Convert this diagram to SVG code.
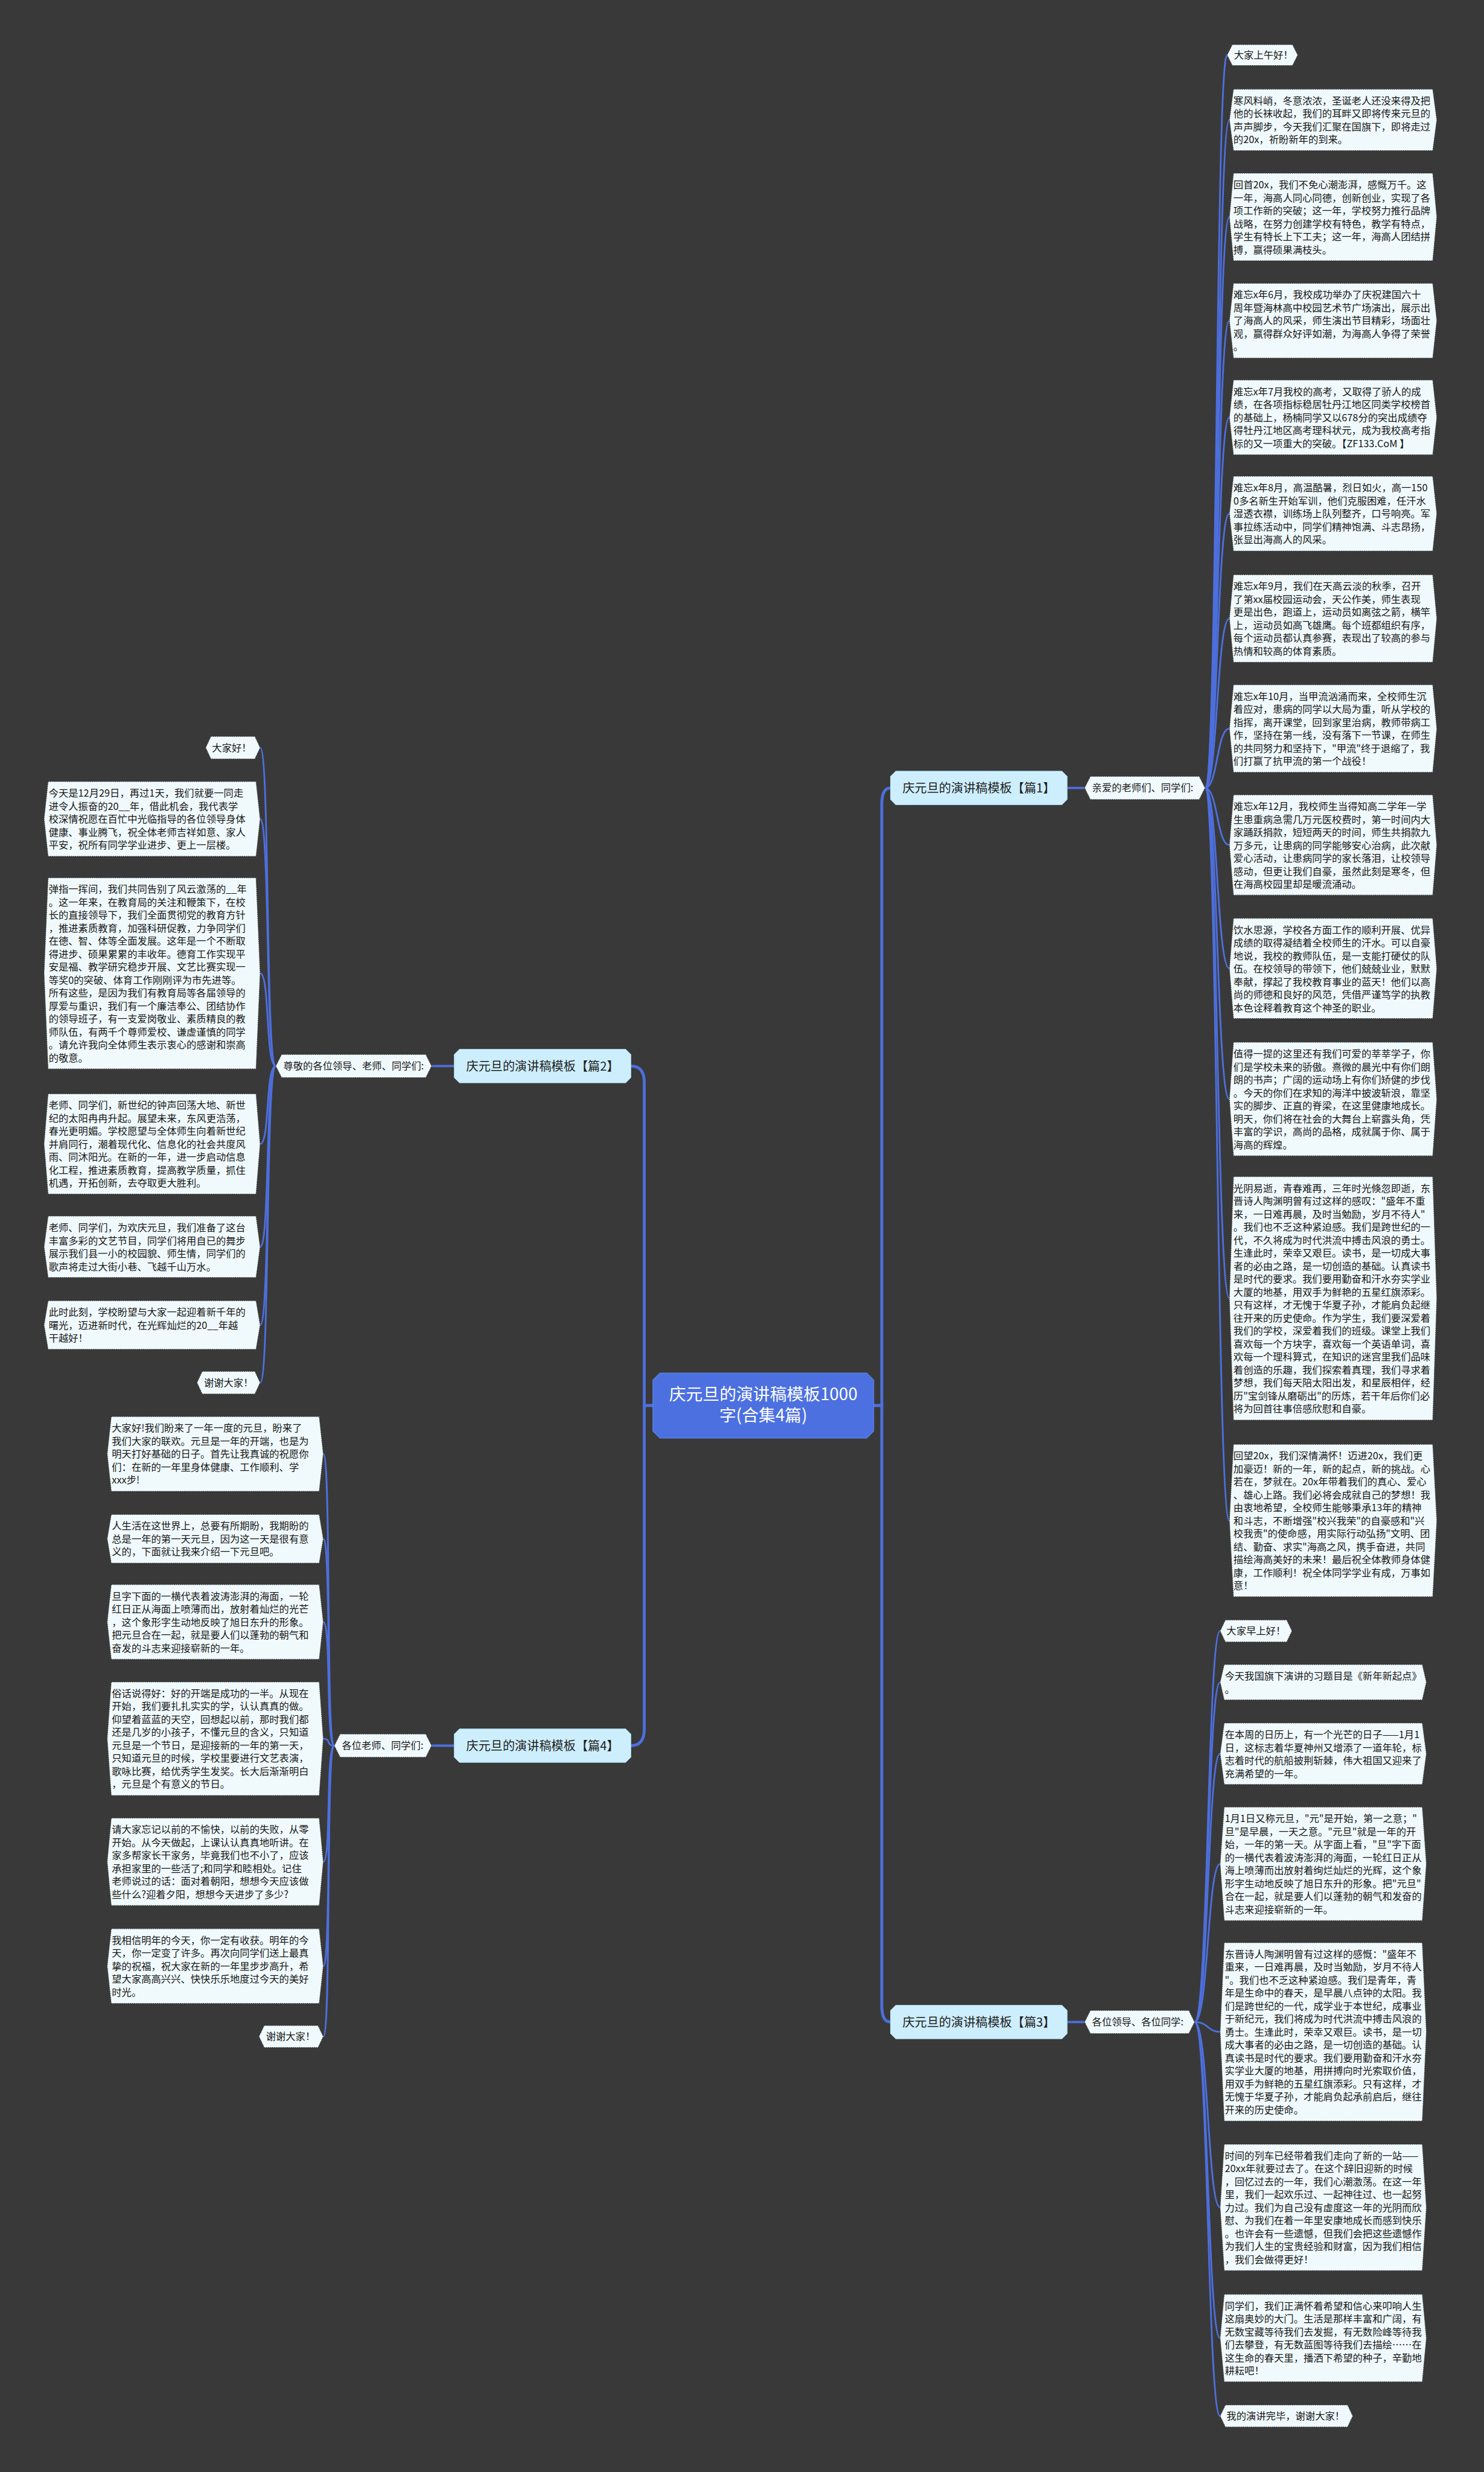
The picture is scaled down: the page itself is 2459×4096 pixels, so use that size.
<svg xmlns="http://www.w3.org/2000/svg" width="2459" height="4096" viewBox="0 0 2459 4096">
<style>
.t{font-family:"Noto Sans CJK SC","Noto Sans",sans-serif;font-size:17px;fill:#161616}
.box{fill:#f0fafd;stroke:#3c3c3c;stroke-width:1.2;stroke-dasharray:2 1.6}
.br{fill:#cdeefc;stroke:#a6d6ec;stroke-width:1}
.bt{font-family:"Noto Sans CJK SC","Noto Sans",sans-serif;font-size:21px;fill:#1e1e1e;text-anchor:middle}
.mn{fill:#4c70e0;stroke:#5b7fe8;stroke-width:1.5}
.mt{font-family:"Noto Sans CJK SC","Noto Sans",sans-serif;font-size:29px;fill:#ffffff;text-anchor:middle}
.c{fill:none;stroke:#4d6fdd;stroke-width:3;stroke-linecap:round}
.cm{fill:none;stroke:#4d6fdd;stroke-width:5}
.cl{fill:none;stroke:#4d6fdd;stroke-width:4}
</style>
<rect x="0" y="0" width="2459" height="4096" fill="#393939"/>
<g transform="scale(0.96)">
<g id="connectors">
<path class="cm" d="M1127,2426 H1112 V1868 Q1112,1840 1089,1840"/>
<path class="cm" d="M1127,2426 H1112 V2985 Q1112,3013 1089,3013"/>
<path class="cm" d="M1508,2426 H1522 V1388 Q1522,1360 1537,1360"/>
<path class="cm" d="M1508,2426 H1522 V3462 Q1522,3490 1537,3490"/>
<path class="cl" d="M1842,1360 H1872"/>
<path class="cl" d="M1842,3490 H1872"/>
<path class="cl" d="M745,1840 H784"/>
<path class="cl" d="M745,3013 H784"/>
<path class="c" d="M2080,1360 C2102,1360 2098,95 2118,95"/>
<path class="c" d="M2080,1360 C2102,1360 2100,207 2122,207"/>
<path class="c" d="M2080,1360 C2102,1360 2100,374.5 2122,374.5"/>
<path class="c" d="M2080,1360 C2102,1360 2100,553.5 2122,553.5"/>
<path class="c" d="M2080,1360 C2102,1360 2100,720.5 2122,720.5"/>
<path class="c" d="M2080,1360 C2102,1360 2100,886.5 2122,886.5"/>
<path class="c" d="M2080,1360 C2102,1360 2100,1067.5 2122,1067.5"/>
<path class="c" d="M2080,1360 C2102,1360 2100,1257.5 2122,1257.5"/>
<path class="c" d="M2080,1360 C2102,1360 2100,1458.5 2122,1458.5"/>
<path class="c" d="M2080,1360 C2102,1360 2100,1671.5 2122,1671.5"/>
<path class="c" d="M2080,1360 C2102,1360 2100,1897 2122,1897"/>
<path class="c" d="M2080,1360 C2102,1360 2100,2241 2122,2241"/>
<path class="c" d="M2080,1360 C2102,1360 2100,2624.5 2122,2624.5"/>
<path class="c" d="M2062,3490 C2086,3490 2084,2815 2106,2815"/>
<path class="c" d="M2062,3490 C2086,3490 2084,2903.5 2106,2903.5"/>
<path class="c" d="M2062,3490 C2086,3490 2084,3027 2106,3027"/>
<path class="c" d="M2062,3490 C2086,3490 2084,3217 2106,3217"/>
<path class="c" d="M2062,3490 C2086,3490 2084,3507 2106,3507"/>
<path class="c" d="M2062,3490 C2086,3490 2084,3810 2106,3810"/>
<path class="c" d="M2062,3490 C2086,3490 2084,4035.5 2106,4035.5"/>
<path class="c" d="M2062,3490 C2086,3490 2084,4170 2106,4170"/>
<path class="c" d="M476,1840 C458,1840 466,1290.5 449,1290.5"/>
<path class="c" d="M476,1840 C458,1840 466,1413.5 449,1413.5"/>
<path class="c" d="M476,1840 C458,1840 466,1680 449,1680"/>
<path class="c" d="M476,1840 C458,1840 466,1974.5 449,1974.5"/>
<path class="c" d="M476,1840 C458,1840 466,2152 449,2152"/>
<path class="c" d="M476,1840 C458,1840 466,2287 449,2287"/>
<path class="c" d="M476,1840 C458,1840 466,2386.5 449,2386.5"/>
<path class="c" d="M577,3013 C562,3013 572,2509.5 558,2509.5"/>
<path class="c" d="M577,3013 C562,3013 572,2656 558,2656"/>
<path class="c" d="M577,3013 C562,3013 572,2799.5 558,2799.5"/>
<path class="c" d="M577,3013 C562,3013 572,3001 558,3001"/>
<path class="c" d="M577,3013 C562,3013 572,3213.5 558,3213.5"/>
<path class="c" d="M577,3013 C562,3013 572,3393.5 558,3393.5"/>
<path class="c" d="M577,3013 C562,3013 572,3515 558,3515"/>
</g>

<g id="main">
<polygon class="mn" points="1139,2370 1496,2370 1508,2382 1508,2470 1496,2482 1139,2482 1127,2470 1127,2382"/>
<text class="mt" x="1317.5" y="2417">庆元旦的演讲稿模板1000</text>
<text class="mt" x="1317.5" y="2453">字(合集4篇)</text>
</g>

<g id="b1">
<polygon class="br" points="1546,1331 1833,1331 1842,1340 1842,1380 1833,1389 1546,1389 1537,1380 1537,1340"/>
<text class="bt" x="1689.5" y="1367.5">庆元旦的演讲稿模板【篇1】</text>
</g>
<g id="b2">
<polygon class="br" points="793,1811 1080,1811 1089,1820 1089,1860 1080,1869 793,1869 784,1860 784,1820"/>
<text class="bt" x="936.5" y="1847.5">庆元旦的演讲稿模板【篇2】</text>
</g>
<g id="b3">
<polygon class="br" points="1546,3461 1833,3461 1842,3470 1842,3510 1833,3519 1546,3519 1537,3510 1537,3470"/>
<text class="bt" x="1689.5" y="3497.5">庆元旦的演讲稿模板【篇3】</text>
</g>
<g id="b4">
<polygon class="br" points="793,2984 1080,2984 1089,2993 1089,3033 1080,3042 793,3042 784,3033 784,2993"/>
<text class="bt" x="936.5" y="3020.5">庆元旦的演讲稿模板【篇4】</text>
</g>

<g id="l1">
<polygon class="box" points="1882,1340 2070,1340 2080,1360 2070,1380 1882,1380 1872,1360"/>
<text class="t" x="1885" y="1366">亲爱的老师们、同学们:</text>
</g>
<g id="l3">
<polygon class="box" points="1882,3470 2052,3470 2062,3490 2052,3510 1882,3510 1872,3490"/>
<text class="t" x="1885" y="3496">各位领导、各位同学:</text>
</g>
<g id="l2">
<polygon class="box" points="486,1820 735,1820 745,1840 735,1860 486,1860 476,1840"/>
<text class="t" x="489" y="1846">尊敬的各位领导、老师、同学们:</text>
</g>
<g id="l4">
<polygon class="box" points="587,2993 735,2993 745,3013 735,3033 587,3033 577,3013"/>
<text class="t" x="590" y="3019">各位老师、同学们:</text>
</g>

<g id="a1"><polygon class="box" points="2127,77 2231,77 2240,95 2231,113 2127,113 2118,95"/><text class="t" x="2130" y="101">大家上午好！</text></g>
<g id="a2"><polygon class="box" points="2129,154 2473,154 2480,207 2473,260 2129,260 2122,207"/>
<text class="t" x="2129" y="180"><tspan x="2129" dy="0">寒风料峭，冬意浓浓，圣诞老人还没来得及把</tspan><tspan x="2129" dy="22.4">他的长袜收起，我们的耳畔又即将传来元旦的</tspan><tspan x="2129" dy="22.4">声声脚步，今天我们汇聚在国旗下，即将走过</tspan><tspan x="2129" dy="22.4">的20x，祈盼新年的到来。</tspan></text></g>
<g id="a3"><polygon class="box" points="2129,299 2473,299 2480,374.5 2473,450 2129,450 2122,374.5"/>
<text class="t" x="2129" y="325"><tspan x="2129" dy="0">回首20x，我们不免心潮澎湃，感慨万千。这</tspan><tspan x="2129" dy="22.4">一年，海高人同心同德，创新创业，实现了各</tspan><tspan x="2129" dy="22.4">项工作新的突破；这一年，学校努力推行品牌</tspan><tspan x="2129" dy="22.4">战略，在努力创建学校有特色，教学有特点，</tspan><tspan x="2129" dy="22.4">学生有特长上下工夫；这一年，海高人团结拼</tspan><tspan x="2129" dy="22.4">搏，赢得硕果满枝头。</tspan></text></g>
<g id="a4"><polygon class="box" points="2129,489 2473,489 2480,553.5 2473,618 2129,618 2122,553.5"/>
<text class="t" x="2129" y="515"><tspan x="2129" dy="0">难忘x年6月，我校成功举办了庆祝建国六十</tspan><tspan x="2129" dy="22.4">周年暨海林高中校园艺术节广场演出，展示出</tspan><tspan x="2129" dy="22.4">了海高人的风采，师生演出节目精彩，场面壮</tspan><tspan x="2129" dy="22.4">观，赢得群众好评如潮，为海高人争得了荣誉</tspan><tspan x="2129" dy="22.4">。</tspan></text></g>
<g id="a5"><polygon class="box" points="2129,656 2473,656 2480,720.5 2473,785 2129,785 2122,720.5"/>
<text class="t" x="2129" y="682"><tspan x="2129" dy="0">难忘x年7月我校的高考，又取得了骄人的成</tspan><tspan x="2129" dy="22.4">绩，在各项指标稳居牡丹江地区同类学校榜首</tspan><tspan x="2129" dy="22.4">的基础上，杨楠同学又以678分的突出成绩夺</tspan><tspan x="2129" dy="22.4">得牡丹江地区高考理科状元，成为我校高考指</tspan><tspan x="2129" dy="22.4">标的又一项重大的突破。【ZF133.CoM 】</tspan></text></g>
<g id="a6"><polygon class="box" points="2129,822 2473,822 2480,886.5 2473,951 2129,951 2122,886.5"/>
<text class="t" x="2129" y="848"><tspan x="2129" dy="0">难忘x年8月，高温酷暑，烈日如火，高一150</tspan><tspan x="2129" dy="22.4">0多名新生开始军训，他们克服困难，任汗水</tspan><tspan x="2129" dy="22.4">湿透衣襟，训练场上队列整齐，口号响亮。军</tspan><tspan x="2129" dy="22.4">事拉练活动中，同学们精神饱满、斗志昂扬，</tspan><tspan x="2129" dy="22.4">张显出海高人的风采。</tspan></text></g>
<g id="a7"><polygon class="box" points="2129,992 2473,992 2480,1067.5 2473,1143 2129,1143 2122,1067.5"/>
<text class="t" x="2129" y="1018"><tspan x="2129" dy="0">难忘x年9月，我们在天高云淡的秋季，召开</tspan><tspan x="2129" dy="22.4">了第xx届校园运动会，天公作美，师生表现</tspan><tspan x="2129" dy="22.4">更是出色，跑道上，运动员如离弦之箭，横竿</tspan><tspan x="2129" dy="22.4">上，运动员如高飞雄鹰。每个班都组织有序，</tspan><tspan x="2129" dy="22.4">每个运动员都认真参赛，表现出了较高的参与</tspan><tspan x="2129" dy="22.4">热情和较高的体育素质。</tspan></text></g>
<g id="a8"><polygon class="box" points="2129,1182 2473,1182 2480,1257.5 2473,1333 2129,1333 2122,1257.5"/>
<text class="t" x="2129" y="1208"><tspan x="2129" dy="0">难忘x年10月，当甲流汹涌而来，全校师生沉</tspan><tspan x="2129" dy="22.4">着应对，患病的同学以大局为重，听从学校的</tspan><tspan x="2129" dy="22.4">指挥，离开课堂，回到家里治病，教师带病工</tspan><tspan x="2129" dy="22.4">作，坚持在第一线，没有落下一节课，在师生</tspan><tspan x="2129" dy="22.4">的共同努力和坚持下，"甲流"终于退缩了，我</tspan><tspan x="2129" dy="22.4">们打赢了抗甲流的第一个战役！</tspan></text></g>
<g id="a9"><polygon class="box" points="2129,1372 2473,1372 2480,1458.5 2473,1545 2129,1545 2122,1458.5"/>
<text class="t" x="2129" y="1398"><tspan x="2129" dy="0">难忘x年12月，我校师生当得知高二学年一学</tspan><tspan x="2129" dy="22.4">生患重病急需几万元医校费时，第一时间内大</tspan><tspan x="2129" dy="22.4">家踊跃捐款，短短两天的时间，师生共捐款九</tspan><tspan x="2129" dy="22.4">万多元，让患病的同学能够安心治病，此次献</tspan><tspan x="2129" dy="22.4">爱心活动，让患病同学的家长落泪，让校领导</tspan><tspan x="2129" dy="22.4">感动，但更让我们自豪，虽然此刻是寒冬，但</tspan><tspan x="2129" dy="22.4">在海高校园里却是暖流涌动。</tspan></text></g>
<g id="a10"><polygon class="box" points="2129,1585 2473,1585 2480,1671.5 2473,1758 2129,1758 2122,1671.5"/>
<text class="t" x="2129" y="1611"><tspan x="2129" dy="0">饮水思源，学校各方面工作的顺利开展、优异</tspan><tspan x="2129" dy="22.4">成绩的取得凝结着全校师生的汗水。可以自豪</tspan><tspan x="2129" dy="22.4">地说，我校的教师队伍，是一支能打硬仗的队</tspan><tspan x="2129" dy="22.4">伍。在校领导的带领下，他们兢兢业业，默默</tspan><tspan x="2129" dy="22.4">奉献，撑起了我校教育事业的蓝天！他们以高</tspan><tspan x="2129" dy="22.4">尚的师德和良好的风范，凭借严谨笃学的执教</tspan><tspan x="2129" dy="22.4">本色诠释着教育这个神圣的职业。</tspan></text></g>
<g id="a11"><polygon class="box" points="2129,1799 2473,1799 2480,1897 2473,1995 2129,1995 2122,1897"/>
<text class="t" x="2129" y="1825"><tspan x="2129" dy="0">值得一提的这里还有我们可爱的莘莘学子，你</tspan><tspan x="2129" dy="22.4">们是学校未来的骄傲。熹微的晨光中有你们朗</tspan><tspan x="2129" dy="22.4">朗的书声；广阔的运动场上有你们矫健的步伐</tspan><tspan x="2129" dy="22.4">。今天的你们在求知的海洋中披波斩浪，靠坚</tspan><tspan x="2129" dy="22.4">实的脚步、正直的脊梁，在这里健康地成长。</tspan><tspan x="2129" dy="22.4">明天，你们将在社会的大舞台上崭露头角，凭</tspan><tspan x="2129" dy="22.4">丰富的学识，高尚的品格，成就属于你、属于</tspan><tspan x="2129" dy="22.4">海高的辉煌。</tspan></text></g>
<g id="a12"><polygon class="box" points="2129,2031 2473,2031 2480,2241 2473,2451 2129,2451 2122,2241"/>
<text class="t" x="2129" y="2057"><tspan x="2129" dy="0">光阴易逝，青春难再，三年时光倏忽即逝，东</tspan><tspan x="2129" dy="22.4">晋诗人陶渊明曾有过这样的感叹："盛年不重</tspan><tspan x="2129" dy="22.4">来，一日难再晨，及时当勉励，岁月不待人"</tspan><tspan x="2129" dy="22.4">。我们也不乏这种紧迫感。我们是跨世纪的一</tspan><tspan x="2129" dy="22.4">代，不久将成为时代洪流中搏击风浪的勇士。</tspan><tspan x="2129" dy="22.4">生逢此时，荣幸又艰巨。读书，是一切成大事</tspan><tspan x="2129" dy="22.4">者的必由之路，是一切创造的基础。认真读书</tspan><tspan x="2129" dy="22.4">是时代的要求。我们要用勤奋和汗水夯实学业</tspan><tspan x="2129" dy="22.4">大厦的地基，用双手为鲜艳的五星红旗添彩。</tspan><tspan x="2129" dy="22.4">只有这样，才无愧于华夏子孙，才能肩负起继</tspan><tspan x="2129" dy="22.4">往开来的历史使命。作为学生，我们要深爱着</tspan><tspan x="2129" dy="22.4">我们的学校，深爱着我们的班级。课堂上我们</tspan><tspan x="2129" dy="22.4">喜欢每一个方块字，喜欢每一个英语单词，喜</tspan><tspan x="2129" dy="22.4">欢每一个理科算式，在知识的迷宫里我们品味</tspan><tspan x="2129" dy="22.4">着创造的乐趣，我们探索着真理，我们寻求着</tspan><tspan x="2129" dy="22.4">梦想，我们每天陪太阳出发，和星辰相伴，经</tspan><tspan x="2129" dy="22.4">历"宝剑锋从磨砺出"的历炼，若干年后你们必</tspan><tspan x="2129" dy="22.4">将为回首往事倍感欣慰和自豪。</tspan></text></g>
<g id="a13"><polygon class="box" points="2129,2493 2473,2493 2480,2624.5 2473,2756 2129,2756 2122,2624.5"/>
<text class="t" x="2129" y="2519"><tspan x="2129" dy="0">回望20x，我们深情满怀！迈进20x，我们更</tspan><tspan x="2129" dy="22.4">加豪迈！新的一年，新的起点，新的挑战。心</tspan><tspan x="2129" dy="22.4">若在，梦就在。20x年带着我们的真心、爱心</tspan><tspan x="2129" dy="22.4">、雄心上路。我们必将会成就自己的梦想！我</tspan><tspan x="2129" dy="22.4">由衷地希望，全校师生能够秉承13年的精神</tspan><tspan x="2129" dy="22.4">和斗志，不断增强"校兴我荣"的自豪感和"兴</tspan><tspan x="2129" dy="22.4">校我责"的使命感，用实际行动弘扬"文明、团</tspan><tspan x="2129" dy="22.4">结、勤奋、求实"海高之风，携手奋进，共同</tspan><tspan x="2129" dy="22.4">描绘海高美好的未来！最后祝全体教师身体健</tspan><tspan x="2129" dy="22.4">康，工作顺利！祝全体同学学业有成，万事如</tspan><tspan x="2129" dy="22.4">意！</tspan></text></g>

<g id="b3_1"><polygon class="box" points="2115,2796 2221,2796 2230,2815 2221,2834 2115,2834 2106,2815"/><text class="t" x="2117" y="2821">大家早上好！</text></g>
<g id="b3_2"><polygon class="box" points="2113,2873 2455,2873 2462,2903.5 2455,2934 2113,2934 2106,2903.5"/>
<text class="t" x="2114" y="2899"><tspan x="2114" dy="0">今天我国旗下演讲的习题目是《新年新起点》</tspan><tspan x="2114" dy="22.4">。</tspan></text></g>
<g id="b3_3"><polygon class="box" points="2113,2974 2455,2974 2462,3027 2455,3080 2113,3080 2106,3027"/>
<text class="t" x="2114" y="3000"><tspan x="2114" dy="0">在本周的日历上，有一个光芒的日子——1月1</tspan><tspan x="2114" dy="22.4">日，这标志着华夏神州又增添了一道年轮，标</tspan><tspan x="2114" dy="22.4">志着时代的航船披荆斩棘，伟大祖国又迎来了</tspan><tspan x="2114" dy="22.4">充满希望的一年。</tspan></text></g>
<g id="b3_4"><polygon class="box" points="2113,3119 2455,3119 2462,3217 2455,3315 2113,3315 2106,3217"/>
<text class="t" x="2114" y="3145"><tspan x="2114" dy="0">1月1日又称元旦，"元"是开始，第一之意；"</tspan><tspan x="2114" dy="22.4">旦"是早晨，一天之意。"元旦"就是一年的开</tspan><tspan x="2114" dy="22.4">始，一年的第一天。从字面上看，"旦"字下面</tspan><tspan x="2114" dy="22.4">的一横代表着波涛澎湃的海面，一轮红日正从</tspan><tspan x="2114" dy="22.4">海上喷薄而出放射着绚烂灿烂的光辉，这个象</tspan><tspan x="2114" dy="22.4">形字生动地反映了旭日东升的形象。把"元旦"</tspan><tspan x="2114" dy="22.4">合在一起，就是要人们以蓬勃的朝气和发奋的</tspan><tspan x="2114" dy="22.4">斗志来迎接崭新的一年。</tspan></text></g>
<g id="b3_5"><polygon class="box" points="2113,3353 2455,3353 2462,3507 2455,3661 2113,3661 2106,3507"/>
<text class="t" x="2114" y="3379"><tspan x="2114" dy="0">东晋诗人陶渊明曾有过这样的感慨："盛年不</tspan><tspan x="2114" dy="22.4">重来，一日难再晨，及时当勉励，岁月不待人</tspan><tspan x="2114" dy="22.4">"。我们也不乏这种紧迫感。我们是青年，青</tspan><tspan x="2114" dy="22.4">年是生命中的春天，是早晨八点钟的太阳。我</tspan><tspan x="2114" dy="22.4">们是跨世纪的一代，成学业于本世纪，成事业</tspan><tspan x="2114" dy="22.4">于新纪元，我们将成为时代洪流中搏击风浪的</tspan><tspan x="2114" dy="22.4">勇士。生逢此时，荣幸又艰巨。读书，是一切</tspan><tspan x="2114" dy="22.4">成大事者的必由之路，是一切创造的基础。认</tspan><tspan x="2114" dy="22.4">真读书是时代的要求。我们要用勤奋和汗水夯</tspan><tspan x="2114" dy="22.4">实学业大厦的地基，用拼搏向时光索取价值，</tspan><tspan x="2114" dy="22.4">用双手为鲜艳的五星红旗添彩。只有这样，才</tspan><tspan x="2114" dy="22.4">无愧于华夏子孙，才能肩负起承前启后，继往</tspan><tspan x="2114" dy="22.4">开来的历史使命。</tspan></text></g>
<g id="b3_6"><polygon class="box" points="2113,3701 2455,3701 2462,3810 2455,3919 2113,3919 2106,3810"/>
<text class="t" x="2114" y="3727"><tspan x="2114" dy="0">时间的列车已经带着我们走向了新的一站——</tspan><tspan x="2114" dy="22.4">20xx年就要过去了。在这个辞旧迎新的时候</tspan><tspan x="2114" dy="22.4">，回忆过去的一年，我们心潮激荡。在这一年</tspan><tspan x="2114" dy="22.4">里，我们一起欢乐过、一起神往过、也一起努</tspan><tspan x="2114" dy="22.4">力过。我们为自己没有虚度这一年的光阴而欣</tspan><tspan x="2114" dy="22.4">慰、为我们在着一年里安康地成长而感到快乐</tspan><tspan x="2114" dy="22.4">。也许会有一些遗憾，但我们会把这些遗憾作</tspan><tspan x="2114" dy="22.4">为我们人生的宝贵经验和财富，因为我们相信</tspan><tspan x="2114" dy="22.4">，我们会做得更好！</tspan></text></g>
<g id="b3_7"><polygon class="box" points="2113,3960 2455,3960 2462,4035.5 2455,4111 2113,4111 2106,4035.5"/>
<text class="t" x="2114" y="3986"><tspan x="2114" dy="0">同学们，我们正满怀着希望和信心来叩响人生</tspan><tspan x="2114" dy="22.4">这扇奥妙的大门。生活是那样丰富和广阔，有</tspan><tspan x="2114" dy="22.4">无数宝藏等待我们去发掘，有无数险峰等待我</tspan><tspan x="2114" dy="22.4">们去攀登，有无数蓝图等待我们去描绘……在</tspan><tspan x="2114" dy="22.4">这生命的春天里，播洒下希望的种子，辛勤地</tspan><tspan x="2114" dy="22.4">耕耘吧！</tspan></text></g>
<g id="b3_8"><polygon class="box" points="2115,4151 2326,4151 2335,4170 2326,4189 2115,4189 2106,4170"/><text class="t" x="2117" y="4176">我的演讲完毕，谢谢大家！</text></g>

<g id="c1"><polygon class="box" points="364,1271 440,1271 449,1290.5 440,1310 364,1310 355,1290.5"/><text class="t" x="366" y="1296.5">大家好！</text></g>
<g id="c2"><polygon class="box" points="83,1349 442,1349 449,1413.5 442,1478 83,1478 76,1413.5"/>
<text class="t" x="84" y="1375"><tspan x="84" dy="0">今天是12月29日，再过1天，我们就要一同走</tspan><tspan x="84" dy="22.4">进令人振奋的20__年，借此机会，我代表学</tspan><tspan x="84" dy="22.4">校深情祝愿在百忙中光临指导的各位领导身体</tspan><tspan x="84" dy="22.4">健康、事业腾飞，祝全体老师吉祥如意、家人</tspan><tspan x="84" dy="22.4">平安，祝所有同学学业进步、更上一层楼。</tspan></text></g>
<g id="c3"><polygon class="box" points="83,1515 442,1515 449,1680 442,1845 83,1845 76,1680"/>
<text class="t" x="84" y="1541"><tspan x="84" dy="0">弹指一挥间，我们共同告别了风云激荡的__年</tspan><tspan x="84" dy="22.4">。这一年来，在教育局的关注和鞭策下，在校</tspan><tspan x="84" dy="22.4">长的直接领导下，我们全面贯彻党的教育方针</tspan><tspan x="84" dy="22.4">，推进素质教育，加强科研促教，力争同学们</tspan><tspan x="84" dy="22.4">在德、智、体等全面发展。这年是一个不断取</tspan><tspan x="84" dy="22.4">得进步、硕果累累的丰收年。德育工作实现平</tspan><tspan x="84" dy="22.4">安是福、教学研究稳步开展、文艺比赛实现一</tspan><tspan x="84" dy="22.4">等奖0的突破、体育工作刚刚评为市先进等。</tspan><tspan x="84" dy="22.4">所有这些，是因为我们有教育局等各届领导的</tspan><tspan x="84" dy="22.4">厚爱与重识，我们有一个廉洁奉公、团结协作</tspan><tspan x="84" dy="22.4">的领导班子，有一支爱岗敬业、素质精良的教</tspan><tspan x="84" dy="22.4">师队伍，有两千个尊师爱校、谦虚谨慎的同学</tspan><tspan x="84" dy="22.4">。请允许我向全体师生表示衷心的感谢和崇高</tspan><tspan x="84" dy="22.4">的敬意。</tspan></text></g>
<g id="c4"><polygon class="box" points="83,1888 442,1888 449,1974.5 442,2061 83,2061 76,1974.5"/>
<text class="t" x="84" y="1914"><tspan x="84" dy="0">老师、同学们，新世纪的钟声回荡大地、新世</tspan><tspan x="84" dy="22.4">纪的太阳冉冉升起。展望未来，东风更浩荡，</tspan><tspan x="84" dy="22.4">春光更明媚。学校愿望与全体师生向着新世纪</tspan><tspan x="84" dy="22.4">并肩同行，潮着现代化、信息化的社会共度风</tspan><tspan x="84" dy="22.4">雨、同沐阳光。在新的一年，进一步启动信息</tspan><tspan x="84" dy="22.4">化工程，推进素质教育，提高教学质量，抓住</tspan><tspan x="84" dy="22.4">机遇，开拓创新，去夺取更大胜利。</tspan></text></g>
<g id="c5"><polygon class="box" points="83,2099 442,2099 449,2152 442,2205 83,2205 76,2152"/>
<text class="t" x="84" y="2125"><tspan x="84" dy="0">老师、同学们，为欢庆元旦，我们准备了这台</tspan><tspan x="84" dy="22.4">丰富多彩的文艺节目，同学们将用自已的舞步</tspan><tspan x="84" dy="22.4">展示我们县一小的校园貌、师生情，同学们的</tspan><tspan x="84" dy="22.4">歌声将走过大街小巷、飞越千山万水。</tspan></text></g>
<g id="c6"><polygon class="box" points="83,2245 442,2245 449,2287 442,2329 83,2329 76,2287"/>
<text class="t" x="84" y="2271"><tspan x="84" dy="0">此时此刻，学校盼望与大家一起迎着新千年的</tspan><tspan x="84" dy="22.4">曙光，迈进新时代，在光辉灿烂的20__年越</tspan><tspan x="84" dy="22.4">干越好！</tspan></text></g>
<g id="c7"><polygon class="box" points="349,2367 440,2367 449,2386.5 440,2406 349,2406 340,2386.5"/><text class="t" x="352" y="2392.5">谢谢大家！</text></g>

<g id="d1"><polygon class="box" points="192,2445 551,2445 558,2509.5 551,2574 192,2574 185,2509.5"/>
<text class="t" x="193" y="2471"><tspan x="193" dy="0">大家好!我们盼来了一年一度的元旦，盼来了</tspan><tspan x="193" dy="22.4">我们大家的联欢。元旦是一年的开端，也是为</tspan><tspan x="193" dy="22.4">明天打好基础的日子。首先让我真诚的祝愿你</tspan><tspan x="193" dy="22.4">们：在新的一年里身体健康、工作顺利、学</tspan><tspan x="193" dy="22.4">xxx步!</tspan></text></g>
<g id="d2"><polygon class="box" points="192,2614 551,2614 558,2656 551,2698 192,2698 185,2656"/>
<text class="t" x="193" y="2640"><tspan x="193" dy="0">人生活在这世界上，总要有所期盼，我期盼的</tspan><tspan x="193" dy="22.4">总是一年的第一天元旦，因为这一天是很有意</tspan><tspan x="193" dy="22.4">义的，下面就让我来介绍一下元旦吧。</tspan></text></g>
<g id="d3"><polygon class="box" points="192,2735 551,2735 558,2799.5 551,2864 192,2864 185,2799.5"/>
<text class="t" x="193" y="2761"><tspan x="193" dy="0">旦字下面的一横代表着波涛澎湃的海面，一轮</tspan><tspan x="193" dy="22.4">红日正从海面上喷薄而出，放射着灿烂的光芒</tspan><tspan x="193" dy="22.4">，这个象形字生动地反映了旭日东升的形象。</tspan><tspan x="193" dy="22.4">把元旦合在一起，就是要人们以蓬勃的朝气和</tspan><tspan x="193" dy="22.4">奋发的斗志来迎接崭新的一年。</tspan></text></g>
<g id="d4"><polygon class="box" points="192,2903 551,2903 558,3001 551,3099 192,3099 185,3001"/>
<text class="t" x="193" y="2929"><tspan x="193" dy="0">俗话说得好：好的开端是成功的一半。从现在</tspan><tspan x="193" dy="22.4">开始，我们要扎扎实实的学，认认真真的做。</tspan><tspan x="193" dy="22.4">仰望着蓝蓝的天空，回想起以前，那时我们都</tspan><tspan x="193" dy="22.4">还是几岁的小孩子，不懂元旦的含义，只知道</tspan><tspan x="193" dy="22.4">元旦是一个节日，是迎接新的一年的第一天，</tspan><tspan x="193" dy="22.4">只知道元旦的时候，学校里要进行文艺表演，</tspan><tspan x="193" dy="22.4">歌咏比赛，给优秀学生发奖。长大后渐渐明白</tspan><tspan x="193" dy="22.4">，元旦是个有意义的节日。</tspan></text></g>
<g id="d5"><polygon class="box" points="192,3138 551,3138 558,3213.5 551,3289 192,3289 185,3213.5"/>
<text class="t" x="193" y="3164"><tspan x="193" dy="0">请大家忘记以前的不愉快，以前的失败，从零</tspan><tspan x="193" dy="22.4">开始。从今天做起，上课认认真真地听讲。在</tspan><tspan x="193" dy="22.4">家多帮家长干家务，毕竟我们也不小了，应该</tspan><tspan x="193" dy="22.4">承担家里的一些活了;和同学和睦相处。记住</tspan><tspan x="193" dy="22.4">老师说过的话：面对着朝阳，想想今天应该做</tspan><tspan x="193" dy="22.4">些什么?迎着夕阳，想想今天进步了多少?</tspan></text></g>
<g id="d6"><polygon class="box" points="192,3329 551,3329 558,3393.5 551,3458 192,3458 185,3393.5"/>
<text class="t" x="193" y="3355"><tspan x="193" dy="0">我相信明年的今天，你一定有收获。明年的今</tspan><tspan x="193" dy="22.4">天，你一定变了许多。再次向同学们送上最真</tspan><tspan x="193" dy="22.4">挚的祝福，祝大家在新的一年里步步高升，希</tspan><tspan x="193" dy="22.4">望大家高高兴兴、快快乐乐地度过今天的美好</tspan><tspan x="193" dy="22.4">时光。</tspan></text></g>
<g id="d7"><polygon class="box" points="456,3496 549,3496 558,3515 549,3534 456,3534 447,3515"/><text class="t" x="459" y="3521">谢谢大家！</text></g>
</g>
</svg>
